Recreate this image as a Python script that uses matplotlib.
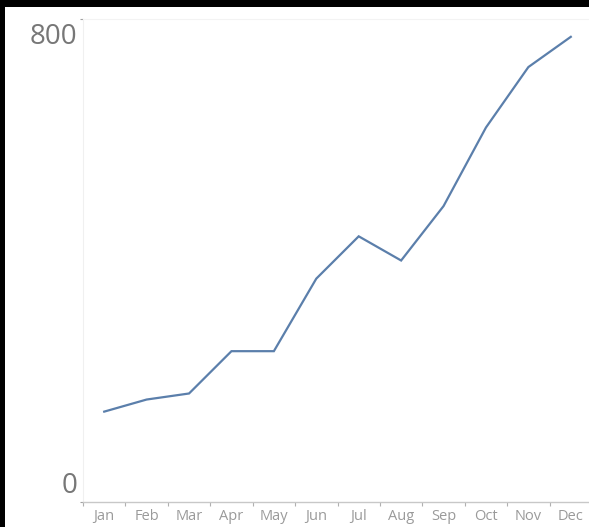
import matplotlib.pyplot as plt
from matplotlib.patches import Rectangle

months = ['Jan', 'Feb', 'Mar', 'Apr', 'May', 'Jun',
          'Jul', 'Aug', 'Sep', 'Oct', 'Nov', 'Dec']
values = [150, 170, 180, 250, 250, 370, 440, 400, 490, 620, 720, 770]
y_ticks = [0, 800]

plt.rcParams['font.family'] = ['Open Sans', 'DejaVu Sans']

fig = plt.figure(figsize=(5.89, 5.27), dpi=100)
fig.patch.set_facecolor('white')

# dark frame along the top and left edges
fig.patches.append(Rectangle((0, 1 - 7 / 527), 1, 7 / 527, transform=fig.transFigure,
                             facecolor='black', edgecolor='none', zorder=10))
fig.patches.append(Rectangle((0, 0), 5 / 589, 1, transform=fig.transFigure,
                             facecolor='black', edgecolor='none', zorder=10))

ax = fig.add_axes([83 / 589, 24.7 / 527, 509 / 589, (502.3 - 18.7) / 527])

x = list(range(len(months)))
ax.plot(x, values, color='#5b7fab', linewidth=1.6, solid_joinstyle='miter')

ax.set_xlim(-0.5, len(months) - 0.5)
ax.set_ylim(0, 800)

# month labels centred, ticks on the boundaries between months
ax.set_xticks(x)
ax.set_xticklabels(months, fontsize=10.5, color='#9a9a9a')
ax.tick_params(axis='x', which='major', length=0, pad=5)
ax.set_xticks([i - 0.5 for i in range(len(months) + 1)], minor=True)
ax.tick_params(axis='x', which='minor', length=3, color='#b0b0b0', width=0.8)

# y labels sit inside the axis range: top one below its tick, bottom one above
ax.set_yticks(y_ticks)
ax.set_yticklabels([])
ax.tick_params(axis='y', length=2, color='#a0a0a0', width=0.8)
offsets = {0: 6.9, 800: -17.9}
for v in y_ticks:
    ax.annotate(str(v), xy=(0, v), xycoords=('axes fraction', 'data'),
                xytext=(-4.3, offsets[v]), textcoords='offset points',
                ha='right', va='baseline', fontsize=20, color='#777777')

ax.spines['right'].set_visible(False)
ax.spines['left'].set_color('#f0f0f0')
ax.spines['top'].set_color('#f3f3f3')
ax.spines['bottom'].set_color('#c8c8c8')
ax.spines['bottom'].set_linewidth(1.0)

plt.savefig('out.png', dpi=100)
